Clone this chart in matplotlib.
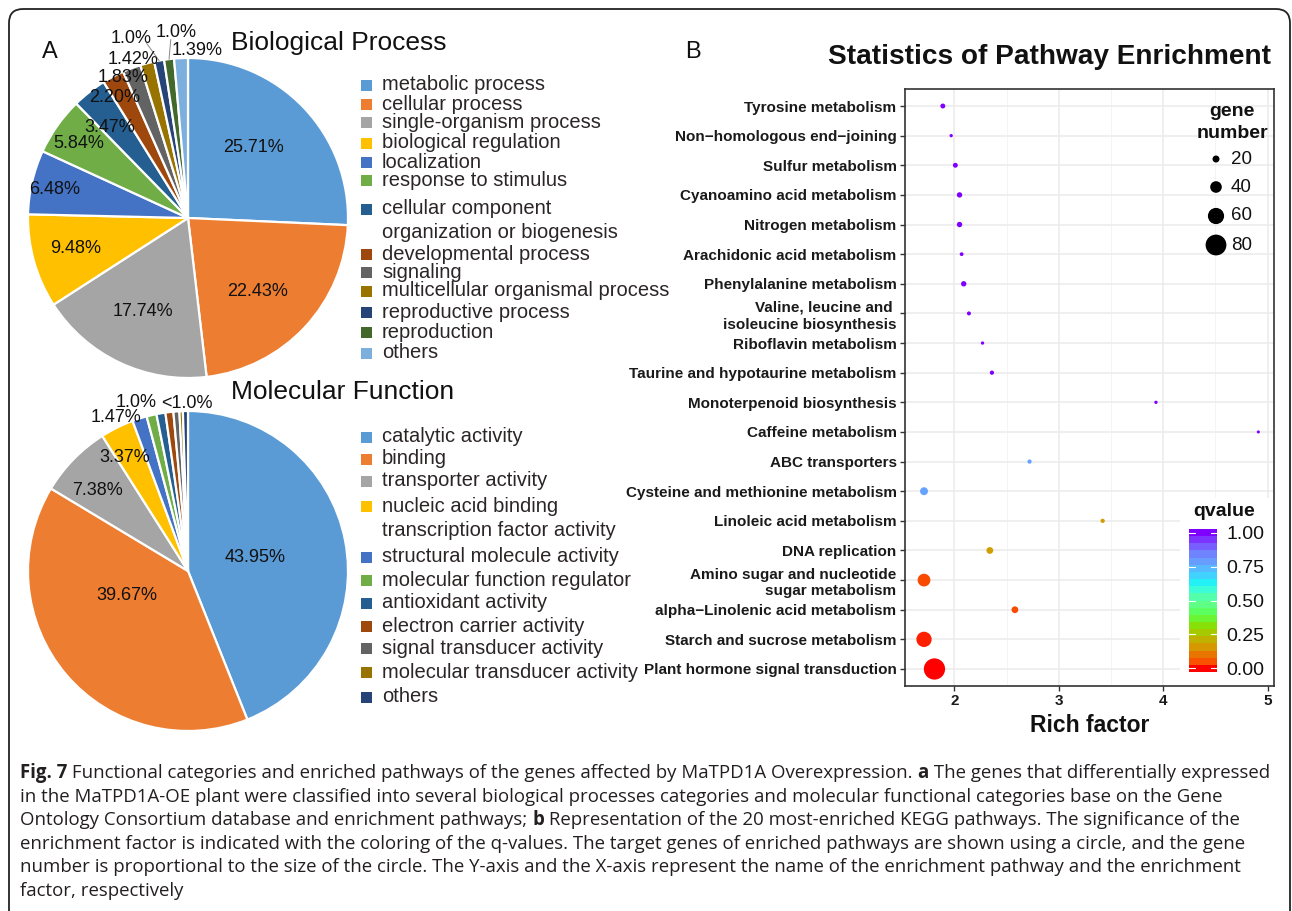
import numpy as np
import matplotlib
matplotlib.use("Agg")
import matplotlib.pyplot as plt
from matplotlib.colors import LinearSegmentedColormap
from matplotlib.patches import FancyBboxPatch, Rectangle

# ---------------- data ----------------
bp_labels = ["metabolic process", "cellular process", "single-organism process",
             "biological regulation", "localization", "response to stimulus",
             "cellular component\norganization or biogenesis", "developmental process",
             "signaling", "multicellular organismal process", "reproductive process",
             "reproduction", "others"]
bp_values = [25.71, 22.43, 17.74, 9.48, 6.48, 5.84, 3.47, 2.20, 1.83, 1.42, 1.0, 1.0, 1.39]
bp_texts = ["25.71%", "22.43%", "17.74%", "9.48%", "6.48%", "5.84%", "3.47%", "2.20%",
            "1.83%", "1.42%", "1.0%", "1.0%", "1.39%"]

mf_labels = ["catalytic activity", "binding", "transporter activity",
             "nucleic acid binding\ntranscription factor activity",
             "structural molecule activity", "molecular function regulator",
             "antioxidant activity", "electron carrier activity",
             "signal transducer activity", "molecular transducer activity", "others"]
mf_values = [43.95, 39.67, 7.38, 3.37, 1.47, 1.0, 0.9, 0.8, 0.6, 0.35, 0.51]
mf_texts = ["43.95%", "39.67%", "7.38%", "3.37%", "1.47%", "1.0%", "<1.0%", "", "", "", ""]

pathways = ["Tyrosine metabolism", "Non\u2212homologous end\u2212joining", "Sulfur metabolism",
            "Cyanoamino acid metabolism", "Nitrogen metabolism", "Arachidonic acid metabolism",
            "Phenylalanine metabolism", "Valine, leucine and \nisoleucine biosynthesis",
            "Riboflavin metabolism", "Taurine and hypotaurine metabolism",
            "Monoterpenoid biosynthesis", "Caffeine metabolism", "ABC transporters",
            "Cysteine and methionine metabolism", "Linoleic acid metabolism", "DNA replication",
            "Amino sugar and nucleotide\nsugar metabolism", "alpha\u2212Linolenic acid metabolism",
            "Starch and sucrose metabolism", "Plant hormone signal transduction"]
rich_factor = [1.89, 1.97, 2.01, 2.05, 2.05, 2.07, 2.09, 2.14, 2.27, 2.36,
               3.93, 4.91, 2.72, 1.71, 3.42, 2.34, 1.71, 2.58, 1.71, 1.81]
gene_number = [11, 4, 11, 13, 13, 6, 13, 7, 4, 8,
               4, 3, 8, 24, 8, 19, 45, 19, 56, 82]
qvalue = [1.0, 1.0, 1.0, 1.0, 1.0, 1.0, 1.0, 1.0, 1.0, 1.0,
          1.0, 1.0, 0.78, 0.78, 0.17, 0.17, 0.05, 0.05, 0.02, 0.0]
size_legend_values = [20, 40, 60, 80]
q_ticks = [0.0, 0.25, 0.5, 0.75, 1.0]
x_ticks = [2, 3, 4, 5]

caption_lines = [
    [("Fig. 7", True), (" Functional categories and enriched pathways of the genes affected by MaTPD1A Overexpression. ", False),
     ("a", True), (" The genes that differentially expressed", False)],
    [("in the MaTPD1A-OE plant were classified into several biological processes categories and molecular functional categories base on the Gene", False)],
    [("Ontology Consortium database and enrichment pathways; ", False), ("b", True),
     (" Representation of the 20 most-enriched KEGG pathways. The significance of the", False)],
    [("enrichment factor is indicated with the coloring of the q-values. The target genes of enriched pathways are shown using a circle, and the gene", False)],
    [("number is proportional to the size of the circle. The Y-axis and the X-axis represent the name of the enrichment pathway and the enrichment", False)],
    [("factor, respectively", False)],
]

# ---------------- styles ----------------
W, H = 1292, 911
pie_colors = ["#5B9BD5", "#ED7D31", "#A5A5A5", "#FFC000", "#4472C4", "#70AD47",
              "#255E91", "#9E480E", "#636363", "#997300", "#264478", "#43682B", "#7CAFDD"]
FONT = "Liberation Sans"
TXT = "#2b2526"

# label placement (radius fraction, angular offset in degrees from slice middle)
bp_lab_r = [0.60, 0.63, 0.65, 0.73, 0.85, 0.83, 0.75, 0.88, 0.97, 1.05, 1.18, 1.16, 1.05]
bp_lab_off = [3.3, -3.7, -0.4, -0.8, 1.0, 0.8, 2.9, 3.4, 4.1, 4.2, 7.2, -3.2, -5.5]
bp_leader = [False] * 10 + [True, True, False]
mf_lab_r = [0.43, 0.41, 0.76, 0.81, 1.06, 1.10, 1.05, 1, 1, 1, 1]
mf_lab_off = [0.7, -18.4, 2.6, 2.7, 7.4, 3.8, -9.5, 0, 0, 0, 0]

bp_leg_y = [85, 104, 122, 143, 162, 180, 209, 254, 272, 291, 312, 332, 353]
mf_leg_y = [437, 459, 481, 506, 557, 580, 603, 626, 648, 672, 697]

cm_pos = [0.00, 0.05, 0.10, 0.15, 0.20, 0.25, 0.30, 0.35, 0.42, 0.50, 0.57, 0.63, 0.70, 0.77, 0.85, 0.92, 1.00]
cm_col = ["#FF0000", "#F85000", "#E87400", "#D89400", "#C4AE00", "#ACC400", "#90DC00", "#70F020",
          "#5CFF60", "#60FF98", "#40FFD0", "#22F2F6", "#48CCFF", "#64A8FF", "#7080FF", "#7A50FF", "#8000FF"]
qcmap = LinearSegmentedColormap.from_list("q", list(zip(cm_pos, cm_col)))


def size_px(n):
    return 2.4 + 0.23 * np.asarray(n, dtype=float)


def size_s(n):
    return (size_px(n) * 0.72) ** 2


fig = plt.figure(figsize=(W / 100, H / 100), dpi=100)
fig.patch.set_facecolor("white")


def px_axes(x0, y0, x1, y1, **kw):
    return fig.add_axes([x0 / W, 1 - y1 / H, (x1 - x0) / W, (y1 - y0) / H], **kw)


# ---------------- pies ----------------
def draw_pie(box, values, colors, texts, lab_r, lab_off, leaders=None):
    ax = px_axes(*box)
    ax.pie(values, colors=colors, startangle=90, counterclock=False, radius=1,
           wedgeprops=dict(edgecolor="white", linewidth=1.6))
    ax.set_xlim(-1, 1)
    ax.set_ylim(-1, 1)
    ax.set_aspect("equal")
    ax.axis("off")
    total = float(sum(values))
    cum = np.cumsum([0] + list(values))[:-1]
    for i, v in enumerate(values):
        mid = 90 - 360 * (cum[i] + v / 2) / total
        if texts[i]:
            a = np.deg2rad(mid + lab_off[i])
            ax.text(lab_r[i] * np.cos(a), lab_r[i] * np.sin(a), texts[i], ha="center", va="center",
                    fontsize=13, family=FONT, color="#111111", clip_on=False)
        if leaders is not None and leaders[i]:
            a0 = np.deg2rad(mid)
            a1 = np.deg2rad(mid + 0.4 * lab_off[i])
            ax.plot([np.cos(a0), 1.12 * np.cos(a1)], [np.sin(a0), 1.12 * np.sin(a1)],
                    color="#8a8a8a", lw=0.7, clip_on=False)
    return ax


draw_pie((28, 58, 348, 378), bp_values, pie_colors, bp_texts, bp_lab_r, bp_lab_off, bp_leader)
draw_pie((28, 411, 348, 731), mf_values, pie_colors[:len(mf_values)], mf_texts, mf_lab_r, mf_lab_off)

# ---------------- scatter ----------------
n = len(pathways)
ypos = np.arange(n)[::-1]
ax = px_axes(905, 89, 1274, 686)
ax.set_axisbelow(True)
ax.scatter(rich_factor, ypos, s=size_s(gene_number), c=qvalue, cmap=qcmap, vmin=0, vmax=1,
           linewidths=0, zorder=3)
ax.set_xlim(1.528, 5.06)
ax.set_ylim(-0.574, n - 1 + 0.574)
ax.set_yticks(ypos)
ax.set_yticklabels(pathways, fontsize=11, fontweight="bold", family=FONT, color="#1a1a1a",
                   linespacing=1.25)
ax.set_xticks(x_ticks)
ax.set_xticklabels([str(t) for t in x_ticks], fontsize=11, fontweight="bold", family=FONT,
                   color="#1a1a1a")
ax.set_xticks([2.5, 3.5, 4.5], minor=True)
ax.grid(True, which="major", color="#EBEBEB", lw=1.1)
ax.grid(True, which="minor", axis="x", color="#F2F2F2", lw=0.6)
ax.tick_params(axis="both", which="major", length=3.6, width=1, color="#333333", pad=2.5)
ax.tick_params(axis="x", which="minor", length=0)
for sp in ax.spines.values():
    sp.set_color("#333333")
    sp.set_linewidth(1.2)

# ---------------- overlay (pixel coordinates) ----------------
ov = fig.add_axes([0, 0, 1, 1], zorder=5)
ov.set_xlim(0, W)
ov.set_ylim(H, 0)
ov.axis("off")
ov.patch.set_alpha(0)

# panel letters & titles
ov.text(50, 52, "A", fontsize=17, family=FONT, ha="center", va="center", color="#111111")
ov.text(693, 52, "B", fontsize=17, family=FONT, ha="center", va="center", color="#111111")
ov.text(231, 43, "Biological Process", fontsize=19, family=FONT, ha="left", va="center", color="#111111")
ov.text(231, 392, "Molecular Function", fontsize=19, family=FONT, ha="left", va="center", color="#111111")
ov.text(828, 57, "Statistics of Pathway Enrichment", fontsize=20.2, fontweight="bold", family=FONT,
        ha="left", va="center", color="#111111")
ov.text(1089.5, 725, "Rich factor", fontsize=16.5, fontweight="bold", family=FONT,
        ha="center", va="center", color="#111111")


# pie legends
def pie_legend(labels, ys, colors):
    for lab, y, c in zip(labels, ys, colors):
        ov.add_patch(Rectangle((361, y - 5.5), 11, 11, facecolor=c, edgecolor="none"))
        for k, line in enumerate(lab.split("\n")):
            ov.text(382, y + 24 * k, line, fontsize=14.5, family=FONT, color=TXT,
                    ha="left", va="center")


pie_legend(bp_labels, bp_leg_y, pie_colors)
pie_legend(mf_labels, mf_leg_y, pie_colors)

# size legend
ov.text(1232, 111, "gene", fontsize=14, fontweight="bold", family=FONT, ha="center", va="center", color="#111111")
ov.text(1232, 134, "number", fontsize=14, fontweight="bold", family=FONT, ha="center", va="center", color="#111111")
leg_ys = [159, 187, 216, 245]
ov.scatter([1216] * len(size_legend_values), leg_ys, s=size_s(size_legend_values), color="black",
           linewidths=0)
for v, y in zip(size_legend_values, leg_ys):
    ov.text(1231, y, str(v), fontsize=13.5, family=FONT, ha="left", va="center", color="#111111")

# colour legend
ov.add_patch(Rectangle((1180, 498), 93, 187, facecolor="white", edgecolor="none", zorder=0))
ov.text(1193, 512, "qvalue", fontsize=14, fontweight="bold", family=FONT, ha="left", va="center", color="#111111")
cax = px_axes(1189, 529, 1217, 672, zorder=6)
nb = 20
edges = np.linspace(-0.5 / (nb - 1), 1 + 0.5 / (nb - 1), nb + 1)
centers = np.linspace(0, 1, nb)
cax.pcolormesh([0, 1], edges, centers.reshape(-1, 1), cmap=qcmap, vmin=0, vmax=1, shading="flat")
cax.set_xlim(0, 1)
cax.set_ylim(edges[0], edges[-1])
cax.set_xticks([])
cax.yaxis.tick_right()
cax.set_yticks(q_ticks)
cax.set_yticklabels(["%.2f" % t for t in q_ticks], fontsize=14, family=FONT, color="#111111")
cax.tick_params(axis="y", length=0, pad=7)
for t in q_ticks:
    cax.plot([0.8, 1.0], [t, t], color="white", lw=0.8)
    cax.plot([0.0, 0.2], [t, t], color="white", lw=0.8)
for sp in cax.spines.values():
    sp.set_visible(False)

# outer rounded frame
ov.add_patch(FancyBboxPatch((9, 9), 1281, 940, boxstyle="round,pad=0,rounding_size=14",
                            fill=False, edgecolor="#222222", lw=1.3, clip_on=False))

# ---------------- caption ----------------
CAP_FONT = "Open Sans"
renderer = fig.canvas.get_renderer()


def line_width(segs, size):
    total = 0
    for txt, bold in segs:
        t = ov.text(0, 0, txt, fontsize=size, family=CAP_FONT, fontweight="bold" if bold else "normal")
        total += t.get_window_extent(renderer).width
        t.remove()
    return total


cap_size = 10 * (1255.0 / line_width(caption_lines[0], 10))
y0 = 773
for li, segs in enumerate(caption_lines):
    x = 20
    y = y0 + 23.6 * li
    for txt, bold in segs:
        t = ov.text(x, y, txt, fontsize=cap_size, family=CAP_FONT, fontweight="bold" if bold else "normal",
                    color="#231f20", ha="left", va="center")
        x += t.get_window_extent(renderer).width

fig.savefig("out.png", dpi=100, facecolor="white")
